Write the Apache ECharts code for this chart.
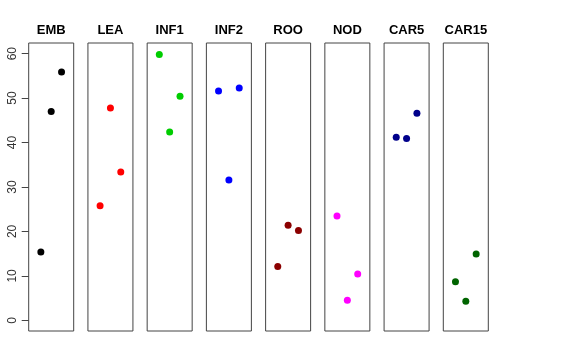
<!DOCTYPE html>
<html><head><meta charset="utf-8">
<script src="https://cdn.jsdelivr.net/npm/echarts@6/dist/echarts.min.js"></script>
<style>html,body{margin:0;padding:0;background:#fff}#c{width:576px;height:360px}</style>
</head><body><div id="c"></div>
<script>
const categories = ['EMB','LEA','INF1','INF2','ROO','NOD','CAR5','CAR15'];
const colors = ['#000000','#FF0000','#00CD00','#0000FF','#8B0000','#FF00FF','#00008B','#006400'];
// y values per category
const values = [
  [55.9, 47.0, 15.4],
  [47.8, 33.4, 25.8],
  [59.8, 50.4, 42.4],
  [51.6, 52.3, 31.6],
  [21.4, 20.2, 12.1],
  [23.5, 10.4, 4.5],
  [41.2, 40.9, 46.6],
  [14.9, 8.7, 4.3]
];
// jittered x positions (axis range 0..1)
const jitter = [
  [0.73, 0.5, 0.27],
  [0.5, 0.73, 0.27],
  [0.27, 0.73, 0.5],
  [0.27, 0.73, 0.5],
  [0.5, 0.73, 0.27],
  [0.27, 0.73, 0.5],
  [0.27, 0.5, 0.73],
  [0.73, 0.27, 0.5]
];
const yTicks = [0, 10, 20, 30, 40, 50, 60];

(function () {
  const grids = [], xAxes = [], yAxes = [], series = [], titles = [];
  const left0 = 28.7, step = 59.23, pw = 45, ptop = 43, ph = 288;
  categories.forEach((cat, i) => {
    const l = left0 + i * step;
    grids.push({left: l, top: ptop, width: pw, height: ph, show: true, borderColor: '#444', borderWidth: 1, backgroundColor: 'transparent'});
    xAxes.push({type: 'value', gridIndex: i, min: 0, max: 1, show: false});
    yAxes.push({
      type: 'value', gridIndex: i, min: -2.4, max: 62.4,
      show: i === 0,
      axisLine: {show: false},
      splitLine: {show: false},
      axisTick: {show: true, length: 7, customValues: yTicks, lineStyle: {color: '#444'}},
      axisLabel: {show: true, customValues: yTicks, rotate: 90, margin: 10, fontSize: 12, color: '#333', fontFamily: 'Liberation Sans, Arial, sans-serif'}
    });
    series.push({
      type: 'scatter', xAxisIndex: i, yAxisIndex: i,
      symbolSize: 7, itemStyle: {color: colors[i], opacity: 1},
      data: values[i].map((v, k) => [jitter[i][k], v]),
      silent: true
    });
    titles.push({
      text: cat, left: l + pw / 2, top: 24, textAlign: 'center', padding: 0,
      textStyle: {fontSize: 13, fontWeight: 'bold', color: '#000', fontFamily: 'Liberation Sans, Arial, sans-serif'}
    });
  });

  const chart = echarts.init(document.getElementById('c'), null, {renderer: 'canvas'});
  chart.setOption({
    animation: false,
    backgroundColor: '#fff',
    title: titles,
    grid: grids,
    xAxis: xAxes,
    yAxis: yAxes,
    series: series
  });
})();
</script></body></html>
